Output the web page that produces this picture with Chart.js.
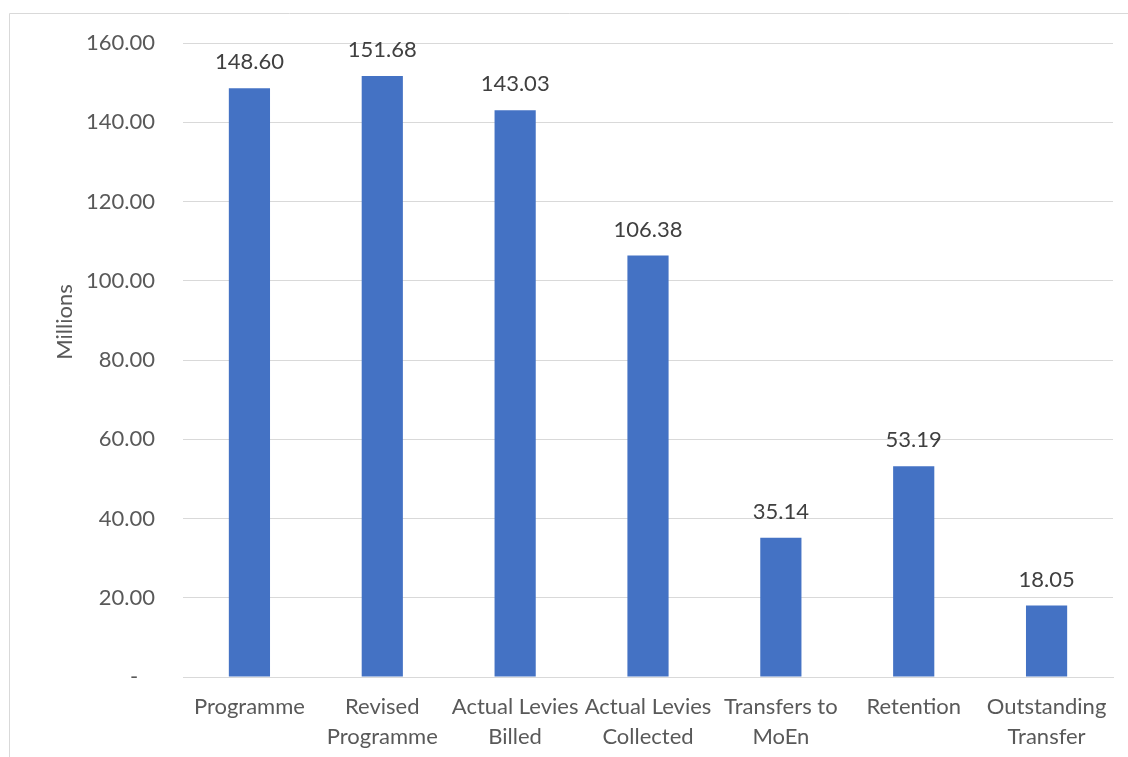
<!DOCTYPE html>
<html>
<head>
<meta charset="utf-8">
<script src="https://cdn.jsdelivr.net/npm/chart.js@4/dist/chart.umd.min.js"></script>
<style>
  html, body { margin: 0; padding: 0; background: #fff; }
  #wrap { width: 1128px; height: 757px; }
</style>
</head>
<body>
<div id="wrap"><canvas id="chart" width="1128" height="757"></canvas></div>
<script>
// Chart data
const categories = [
    'Programme',
    ['Revised', 'Programme'],
    ['Actual Levies', 'Billed'],
    ['Actual Levies', 'Collected'],
    ['Transfers to', 'MoEn'],
    'Retention',
    ['Outstanding', 'Transfer']
];
const values = [148.60, 151.68, 143.03, 106.38, 35.14, 53.19, 18.05];
const yTitle = 'Millions';

const FONT = 'Lato, "Open Sans", sans-serif';

// outer frame + rotated axis title
const framePlugin = {
    id: 'frame',
    afterDraw(chart) {
        const ctx = chart.ctx;
        ctx.save();
        ctx.strokeStyle = '#d9d9d9';
        ctx.lineWidth = 1;
        ctx.beginPath();
        ctx.moveTo(9.5, 800);
        ctx.lineTo(9.5, 13.5);
        ctx.lineTo(1200, 13.5);
        ctx.stroke();

        ctx.translate(65, 322);
        ctx.rotate(-Math.PI / 2);
        ctx.fillStyle = '#595959';
        ctx.font = '22px ' + FONT;
        ctx.textAlign = 'center';
        ctx.textBaseline = 'middle';
        ctx.fillText(yTitle, 0, 0);
        ctx.restore();
    }
};

// value labels above each bar
const valueLabels = {
    id: 'valueLabels',
    afterDatasetsDraw(chart) {
        const ctx = chart.ctx;
        const meta = chart.getDatasetMeta(0);
        ctx.save();
        ctx.fillStyle = '#404040';
        ctx.font = '22px ' + FONT;
        ctx.textAlign = 'center';
        ctx.textBaseline = 'middle';
        meta.data.forEach((bar, i) => {
            ctx.fillText(values[i].toFixed(2), bar.x, bar.y - 26);
        });
        ctx.restore();
    }
};

new Chart(document.getElementById('chart'), {
    type: 'bar',
    data: {
        labels: categories,
        datasets: [{
            data: values,
            backgroundColor: '#4472C4',
            borderWidth: 0,
            categoryPercentage: 1,
            barPercentage: 0.31
        }]
    },
    options: {
        responsive: false,
        animation: false,
        layout: { padding: { top: 43, right: 15, left: 0, bottom: 0 } },
        plugins: {
            legend: { display: false },
            tooltip: { enabled: false }
        },
        scales: {
            x: {
                grid: { display: false, drawTicks: false },
                border: { color: '#d9d9d9', width: 1 },
                ticks: {
                    color: '#595959',
                    font: { family: FONT, size: 22, lineHeight: 1.35 },
                    padding: 15,
                    maxRotation: 0,
                    autoSkip: false
                },
                afterFit(scale) { scale.height = 80; }
            },
            y: {
                min: 0,
                max: 160,
                grid: { color: '#d9d9d9', drawTicks: false },
                border: { display: false },
                ticks: {
                    stepSize: 20,
                    color: '#595959',
                    font: { family: FONT, size: 22 },
                    padding: 28,
                    callback: v => v === 0 ? '-   ' : v.toFixed(2)
                },
                afterFit(scale) { scale.width = 183; }
            }
        }
    },
    plugins: [framePlugin, valueLabels]
});
</script>
</body>
</html>
